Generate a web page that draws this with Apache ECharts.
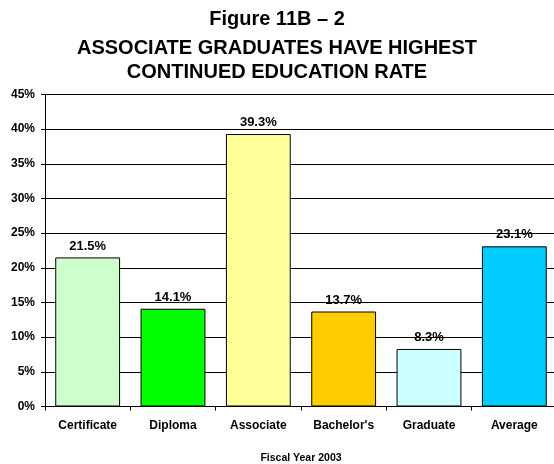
<!DOCTYPE html>
<html><head><meta charset="utf-8">
<script src="https://cdn.jsdelivr.net/npm/echarts@6/dist/echarts.min.js"></script>
<style>html,body{margin:0;padding:0;background:#fff}#c{width:554px;height:464px}</style>
</head><body><div id="c"></div>
<script>
var categories = ["Certificate", "Diploma", "Associate", "Bachelor's", "Graduate", "Average"];
var values = [21.5, 14.1, 39.3, 13.7, 8.3, 23.1];
var barColors = ["#CCFFCC", "#00FF00", "#FFFF99", "#FFCC00", "#CCFFFF", "#00CCFF"];
var titleLines = ["Figure 11B \u2013 2", "ASSOCIATE GRADUATES HAVE HIGHEST", "CONTINUED EDUCATION RATE"];
var xAxisTitle = "Fiscal Year 2003";

var FONT = "'Liberation Sans', Arial, sans-serif";
var chart = echarts.init(document.getElementById('c'), null, {renderer: 'canvas'});
var titleY = [19, 48, 72];
chart.setOption({
  animation: false,
  backgroundColor: '#fff',
  graphic: titleLines.map(function (t, i) {
    return {type: 'text', x: 277, y: titleY[i],
      style: {text: t, font: 'bold 20px ' + FONT, fill: '#000', textAlign: 'center', textVerticalAlign: 'middle'}};
  }),
  grid: {left: 45, top: 94.5, width: 512, height: 312, containLabel: false, outerBoundsMode: 'none'},
  xAxis: {
    type: 'category', data: categories,
    axisLine: {lineStyle: {color: '#000', width: 1}},
    axisTick: {show: true, length: 4, lineStyle: {color: '#000'}},
    axisLabel: {color: '#000', fontFamily: FONT, fontWeight: 'bold', fontSize: 12, margin: 13},
    name: xAxisTitle, nameLocation: 'middle', nameGap: 46,
    nameTextStyle: {color: '#000', fontFamily: FONT, fontWeight: 'bold', fontSize: 10.5}
  },
  yAxis: {
    type: 'value', min: 0, max: 45, interval: 5,
    axisLine: {show: true, lineStyle: {color: '#000', width: 1}},
    axisTick: {show: true, length: 4, lineStyle: {color: '#000'}},
    axisLabel: {color: '#000', fontFamily: FONT, fontWeight: 'bold', fontSize: 12, margin: 10, formatter: '{value}%'},
    splitLine: {show: true, lineStyle: {color: '#000', width: 1}}
  },
  series: [{
    type: 'bar',
    data: values.map(function (v, i) { return {value: v, itemStyle: {color: barColors[i]}}; }),
    barCategoryGap: '24%',
    itemStyle: {borderColor: '#000', borderWidth: 1},
    label: {show: true, position: 'top', distance: 5, color: '#000', fontFamily: FONT, fontWeight: 'bold', fontSize: 13,
      formatter: function (p) { return p.value.toFixed(1) + '%'; }}
  }]
});
</script></body></html>
